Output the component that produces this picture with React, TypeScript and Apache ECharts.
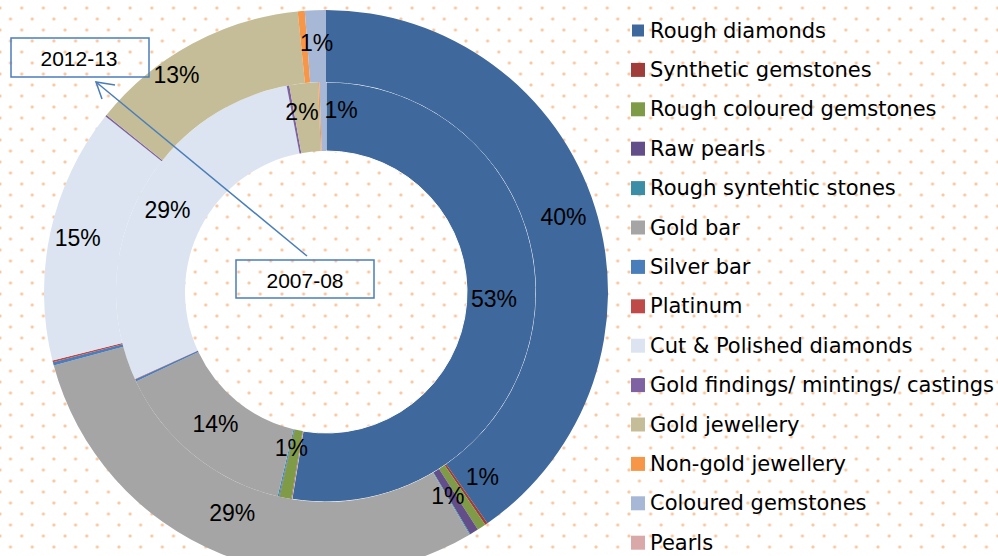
import React, { useEffect, useRef } from "react";
import * as echarts from "echarts";

const categories = [
  "Rough diamonds",
  "Synthetic gemstones",
  "Rough coloured gemstones",
  "Raw pearls",
  "Rough syntehtic stones",
  "Gold bar",
  "Silver bar",
  "Platinum",
  "Cut & Polished diamonds",
  "Gold findings/ mintings/ castings",
  "Gold jewellery",
  "Non-gold jewellery",
  "Coloured gemstones",
  "Pearls",
];

const colors = [
  "#3F689C",
  "#A03D3A",
  "#7F9B47",
  "#634E8A",
  "#3B8EA5",
  "#A5A5A5",
  "#4A7EBB",
  "#BE4B48",
  "#DBE4F0",
  "#7E62A1",
  "#C4BD97",
  "#F79646",
  "#A7B7D6",
  "#D9A8A8",
];

// share (%) of each category, 2012-13 (outer ring)
const values2012 = [40.3, 0.15, 0.5, 0.5, 0.05, 29.3, 0.2, 0.1, 14.6, 0.1, 12.6, 0.4, 1.2, 0.0];
// share (%) of each category, 2007-08 (inner ring)
const values2007 = [52.6, 0.05, 0.9, 0.05, 0.1, 14.3, 0.15, 0.05, 28.8, 0.2, 2.2, 0.1, 0.5, 0.0];

const seriesNames = ["2007-08", "2012-13"];

export default function App() {
  const ref = useRef<HTMLDivElement>(null);

  useEffect(() => {
    if (!ref.current) return;
    const chart = echarts.init(ref.current, null, { renderer: "svg" });

    const labelFmt = (p: any) => (p.percent >= 0.5 ? Math.round(p.percent) + "%" : "");

    const labelShift: Record<string, Record<string, [number, number]>> = {
      "2012-13": {
        "Rough coloured gemstones": [19, -23],
        "Raw pearls": [-9, -8],
        "Gold jewellery": [-31, 2],
        "Gold bar": [0, -10],
        "Cut & Polished diamonds": [-5, -1],
      },
      "2007-08": {
        "Rough diamonds": [-10, -8],
        "Coloured gemstones": [18, -4],
        "Gold jewellery": [-5, -3],
        "Rough coloured gemstones": [0, -19],
        "Gold bar": [2, -7],
      },
    };

    const mk = (name: string, vals: number[], radius: [number, number], inner: boolean) => ({
      name,
      type: "pie",
      center: [326, 292],
      radius,
      startAngle: 90,
      clockwise: true,
      avoidLabelOverlap: false,
      stillShowZeroSum: true,
      emphasis: { disabled: true },
      itemStyle: { borderWidth: 0 },
      label: {
        show: true,
        position: "inside",
        formatter: labelFmt,
        color: "#000",
        fontSize: 23,
        fontFamily: "Liberation Sans, Arial, sans-serif",
      },
      labelLine: { show: false },
      labelLayout: (params: any) => {
        const nm = categories[params.dataIndex];
        const s = labelShift[name][nm];
        return s ? { dx: s[0], dy: s[1] } : {};
      },
      data: categories.map((c, i) => ({
        name: c,
        value: vals[i],
        itemStyle:
          inner && i === 0
            ? { color: colors[i], borderColor: "#ffffff", borderWidth: 1 }
            : { color: colors[i] },
      })),
    });

    const lineColor = "#4A7EBB";
    const textFont = "Liberation Sans, Arial, sans-serif";

    chart.setOption({
      animation: false,
      backgroundColor: "transparent",
      legend: {
        orient: "vertical",
        left: 630,
        top: 20,
        height: 536,
        padding: 0,
        itemWidth: 14,
        itemHeight: 14,
        itemGap: 18.4,
        icon: "rect",
        selectedMode: false,
        data: categories,
        textStyle: {
          fontSize: 21,
          lineHeight: 21,
          color: "#000",
          fontFamily: "DejaVu Sans, sans-serif",
        },
      },
      series: [
        mk(seriesNames[0], values2007, [141, 210], true),
        mk(seriesNames[1], values2012, [210, 282], false),
      ],
      graphic: [
        {
          type: "line",
          z: 100,
          shape: { x1: 307, y1: 256, x2: 96, y2: 82 },
          style: { stroke: lineColor, lineWidth: 1.5 },
        },
        {
          type: "polyline",
          z: 100,
          shape: { points: [[115, 85], [96, 82], [102, 99]] },
          style: { stroke: lineColor, lineWidth: 1.5, fill: null },
        },
        {
          type: "rect",
          z: 100,
          shape: { x: 11, y: 38, width: 138, height: 39 },
          style: { fill: "rgba(255,255,255,0)", stroke: lineColor, lineWidth: 1.5 },
        },
        {
          type: "text",
          z: 101,
          x: 79,
          y: 58,
          style: {
            text: seriesNames[1],
            fontSize: 21,
            fontFamily: textFont,
            fill: "#000",
            align: "center",
            verticalAlign: "middle",
          },
        },
        {
          type: "rect",
          z: 100,
          shape: { x: 236, y: 260, width: 138, height: 38 },
          style: { fill: "rgba(255,255,255,0)", stroke: lineColor, lineWidth: 1.5 },
        },
        {
          type: "text",
          z: 101,
          x: 305,
          y: 280,
          style: {
            text: seriesNames[0],
            fontSize: 21,
            fontFamily: textFont,
            fill: "#000",
            align: "center",
            verticalAlign: "middle",
          },
        },
      ],
    });

    return () => chart.dispose();
  }, []);

  const dot =
    "radial-gradient(circle at center, #f8c8a2 0px, #f8c8a2 1px, rgba(248,200,162,0.35) 1.7px, rgba(255,255,255,0) 2.2px)";

  return (
    <div
      ref={ref}
      style={{
        position: "absolute",
        left: 0,
        top: 0,
        width: 998,
        height: 556,
        backgroundColor: "#ffffff",
        backgroundImage: `${dot}, ${dot}`,
        backgroundSize: "21.7px 22px, 21.7px 22px",
        backgroundPosition: "-0.35px 8px, -10.85px -3px",
      }}
    />
  );
}
